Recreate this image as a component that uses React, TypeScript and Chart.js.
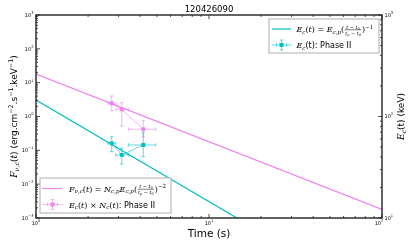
import React, { useEffect, useRef } from "react";
import { Chart, registerables } from "chart.js";

Chart.register(...registerables);

// ---------- data ----------
const chartTitle = "120426090";
const xTickValues = [1, 10, 100];
const xTickExps = ["0", "1", "2"];
const yTickValues = [1e-3, 1e-2, 1e-1, 1, 10, 100, 1000];
const yTickExps = ["−3", "−2", "−1", "0", "1", "2", "3"];
const y2TickValues = [10, 100, 1000];
const y2TickExps = ["1", "2", "3"];

// model curves (read at the ends of the visible lines)
const fluxModelT = [1, 100];
const fluxModelF = [18, 0.0018];
const ecModelT = [1, 14.5];
const ecModelE = [145, 10];

// Phase II points
const phaseT = [2.74, 3.13, 4.17];
const phaseTLo = [2.61, 2.89, 3.42];
const phaseTHi = [2.89, 3.42, 4.92];
const fluxVal = [2.45, 1.63, 0.42];
const fluxLo = [1.48, 0.52, 0.25];
const fluxHi = [4.04, 2.56, 0.75];
const ecVal = [54.4, 41.8, 52.4];
const ecLo = [45.0, 34.0, 40.2];
const ecHi = [63.2, 48.6, 69.2];

// ---------- styles ----------
const VIOLET = "rgb(238,130,238)";
const VIOLET_A = "rgba(238,130,238,0.6)";
const CYAN = "rgb(0,191,191)";
const CYAN_A = "rgba(0,191,191,0.6)";
const SANS = '"DejaVu Sans"';
const SERIF = '"DejaVu Serif"';

type Seg =
  | { k: "i" | "r" | "s" | "sub" | "sup" | "ssup"; t: string }
  | { k: "fr"; n: Seg[]; d: Seg[] };

function rich(ctx: CanvasRenderingContext2D, segs: Seg[], x: number, y: number, size: number, draw: boolean): number {
  let cx = x;
  for (const s of segs) {
    if (s.k === "fr") {
      const fs = size * 0.62;
      const wn = rich(ctx, s.n, 0, 0, fs, false);
      const wd = rich(ctx, s.d, 0, 0, fs, false);
      const w = Math.max(wn, wd) + 2;
      const axis = y - size * 0.28;
      if (draw) {
        rich(ctx, s.n, cx + (w - wn) / 2, axis - 1.2, fs, true);
        rich(ctx, s.d, cx + (w - wd) / 2, axis + 1.2 + fs * 0.72, fs, true);
        ctx.save();
        ctx.strokeStyle = ctx.fillStyle as string;
        ctx.lineWidth = 0.5;
        ctx.beginPath();
        ctx.moveTo(cx + 0.5, axis);
        ctx.lineTo(cx + w - 0.5, axis);
        ctx.stroke();
        ctx.restore();
      }
      cx += w;
      continue;
    }
    let font = "";
    let dy = 0;
    if (s.k === "i") font = `italic ${size}px ${SERIF}`;
    else if (s.k === "r") font = `${size}px ${SERIF}`;
    else if (s.k === "s") font = `${size}px ${SANS}`;
    else if (s.k === "sub") {
      font = `italic ${size * 0.7}px ${SERIF}`;
      dy = size * 0.22;
    } else if (s.k === "sup") {
      font = `${size * 0.7}px ${SERIF}`;
      dy = -size * 0.42;
    } else if (s.k === "ssup") {
      font = `${size * 0.7}px ${SANS}`;
      dy = -size * 0.42;
    }
    ctx.font = font;
    if (draw) {
      ctx.textAlign = "left";
      ctx.textBaseline = "alphabetic";
      ctx.fillText(s.t, cx, y + dy);
    }
    cx += ctx.measureText(s.t).width;
  }
  return cx - x;
}

const fracSegs: Seg = {
  k: "fr",
  n: [{ k: "i", t: "t" }, { k: "r", t: " − " }, { k: "i", t: "t" }, { k: "sub", t: "0" }],
  d: [{ k: "i", t: "t" }, { k: "sub", t: "p" }, { k: "r", t: " − " }, { k: "i", t: "t" }, { k: "sub", t: "0" }],
};

const legendFluxModel: Seg[] = [
  { k: "i", t: "F" }, { k: "sub", t: "ν,c" }, { k: "r", t: "(" }, { k: "i", t: "t" }, { k: "r", t: ") = " },
  { k: "i", t: "N" }, { k: "sub", t: "c,p" }, { k: "i", t: "E" }, { k: "sub", t: "c,p" }, { k: "r", t: "(" },
  fracSegs, { k: "r", t: ")" }, { k: "sup", t: "−2" },
];
const legendFluxData: Seg[] = [
  { k: "i", t: "E" }, { k: "sub", t: "c" }, { k: "r", t: "(" }, { k: "i", t: "t" }, { k: "r", t: ") × " },
  { k: "i", t: "N" }, { k: "sub", t: "c" }, { k: "r", t: "(" }, { k: "i", t: "t" }, { k: "r", t: ")" },
  { k: "s", t: ": Phase II" },
];
const legendEcModel: Seg[] = [
  { k: "i", t: "E" }, { k: "sub", t: "c" }, { k: "r", t: "(" }, { k: "i", t: "t" }, { k: "r", t: ") = " },
  { k: "i", t: "E" }, { k: "sub", t: "c,p" }, { k: "r", t: "(" }, fracSegs, { k: "r", t: ")" }, { k: "sup", t: "−1" },
];
const legendEcData: Seg[] = [{ k: "i", t: "E" }, { k: "sub", t: "c" }, { k: "s", t: "(t): Phase II" }];

const yTitle: Seg[] = [
  { k: "i", t: "F" }, { k: "sub", t: "ν,c" }, { k: "r", t: "(" }, { k: "i", t: "t" }, { k: "r", t: ")" },
  { k: "s", t: " (erg.cm" }, { k: "ssup", t: "−2" }, { k: "s", t: ".s" }, { k: "ssup", t: "−1" },
  { k: "s", t: ".keV" }, { k: "ssup", t: "−1" }, { k: "s", t: ")" },
];
const y2Title: Seg[] = [{ k: "i", t: "E" }, { k: "sub", t: "c" }, { k: "s", t: "(t) (keV)" }];

function drawPow(ctx: CanvasRenderingContext2D, exp: string, x: number, y: number, align: "left" | "right" | "center") {
  ctx.font = `5px ${SANS}`;
  const wb = ctx.measureText("10").width;
  ctx.font = `3.6px ${SANS}`;
  const we = ctx.measureText(exp).width;
  const w = wb + we;
  let sx = x;
  if (align === "right") sx = x - w;
  else if (align === "center") sx = x - w / 2;
  ctx.textAlign = "left";
  ctx.textBaseline = "middle";
  ctx.font = `5px ${SANS}`;
  ctx.fillText("10", sx, y + 0.5);
  ctx.font = `3.6px ${SANS}`;
  ctx.fillText(exp, sx + wb, y - 2);
}

function drawErr(ctx: CanvasRenderingContext2D, x: any, y: any, ys: number[], yl: number[], yh: number[], color: string) {
  ctx.save();
  ctx.strokeStyle = color;
  ctx.lineWidth = 1;
  for (let i = 0; i < phaseT.length; i++) {
    const px = x.getPixelForValue(phaseT[i]);
    const py = y.getPixelForValue(ys[i]);
    const x1 = x.getPixelForValue(phaseTLo[i]);
    const x2 = x.getPixelForValue(phaseTHi[i]);
    const y1 = y.getPixelForValue(yl[i]);
    const y2 = y.getPixelForValue(yh[i]);
    ctx.beginPath();
    ctx.moveTo(x1, py); ctx.lineTo(x2, py);
    ctx.moveTo(px, y1); ctx.lineTo(px, y2);
    ctx.moveTo(x1, py - 1.8); ctx.lineTo(x1, py + 1.8);
    ctx.moveTo(x2, py - 1.8); ctx.lineTo(x2, py + 1.8);
    ctx.moveTo(px - 1.8, y1); ctx.lineTo(px + 1.8, y1);
    ctx.moveTo(px - 1.8, y2); ctx.lineTo(px + 1.8, y2);
    ctx.stroke();
  }
  ctx.restore();
}

function legendErrMarker(ctx: CanvasRenderingContext2D, cx: number, cy: number, color: string, mcolor: string) {
  ctx.save();
  ctx.strokeStyle = color;
  ctx.lineWidth = 1;
  ctx.beginPath();
  ctx.moveTo(cx - 10, cy); ctx.lineTo(cx + 10, cy);
  ctx.moveTo(cx, cy - 5); ctx.lineTo(cx, cy + 5);
  ctx.moveTo(cx - 5, cy - 1.8); ctx.lineTo(cx - 5, cy + 1.8);
  ctx.moveTo(cx + 5, cy - 1.8); ctx.lineTo(cx + 5, cy + 1.8);
  ctx.moveTo(cx - 1.8, cy - 5); ctx.lineTo(cx + 1.8, cy - 5);
  ctx.moveTo(cx - 1.8, cy + 5); ctx.lineTo(cx + 1.8, cy + 5);
  ctx.stroke();
  ctx.fillStyle = mcolor;
  ctx.fillRect(cx - 2, cy - 2, 4, 4);
  ctx.restore();
}

const decorPlugin = {
  id: "decor",
  afterDatasetsDraw(chart: any) {
    const ctx: CanvasRenderingContext2D = chart.ctx;
    const { left, right, top, bottom } = chart.chartArea;
    const sx = chart.scales.x;
    const sy = chart.scales.y;
    const sy2 = chart.scales.y2;

    // error bars
    drawErr(ctx, sx, sy, fluxVal, fluxLo, fluxHi, VIOLET_A);
    drawErr(ctx, sx, sy2, ecVal, ecLo, ecHi, CYAN_A);

    ctx.save();
    // ticks
    ctx.strokeStyle = "#000";
    ctx.lineWidth = 0.7;
    const minors = [2, 3, 4, 5, 6, 7, 8, 9];
    ctx.beginPath();
    for (let i = 0; i < xTickValues.length; i++) {
      const v = xTickValues[i];
      const px = sx.getPixelForValue(v);
      ctx.moveTo(px, bottom); ctx.lineTo(px, bottom - 4);
      ctx.moveTo(px, top); ctx.lineTo(px, top + 4);
      if (i < xTickValues.length - 1) {
        for (const m of minors) {
          const mx = sx.getPixelForValue(v * m);
          ctx.moveTo(mx, bottom); ctx.lineTo(mx, bottom - 2);
          ctx.moveTo(mx, top); ctx.lineTo(mx, top + 2);
        }
      }
    }
    for (let i = 0; i < yTickValues.length; i++) {
      const v = yTickValues[i];
      const py = sy.getPixelForValue(v);
      ctx.moveTo(left, py); ctx.lineTo(left + 4, py);
      if (i < yTickValues.length - 1) {
        for (const m of minors) {
          const my = sy.getPixelForValue(v * m);
          ctx.moveTo(left, my); ctx.lineTo(left + 2, my);
        }
      }
    }
    for (let i = 0; i < y2TickValues.length; i++) {
      const v = y2TickValues[i];
      const py = sy2.getPixelForValue(v);
      ctx.moveTo(right, py); ctx.lineTo(right - 4, py);
      if (i < y2TickValues.length - 1) {
        for (const m of minors) {
          const my = sy2.getPixelForValue(v * m);
          ctx.moveTo(right, my); ctx.lineTo(right - 2, my);
        }
      }
    }
    ctx.stroke();

    // frame
    ctx.strokeStyle = "#222";
    ctx.lineWidth = 1.4;
    ctx.strokeRect(left, top, right - left, bottom - top);

    // tick labels
    ctx.fillStyle = "#000";
    for (let i = 0; i < xTickValues.length; i++) {
      const px = sx.getPixelForValue(xTickValues[i]);
      drawPow(ctx, xTickExps[i], i === xTickValues.length - 1 ? px - 3 : px, bottom + 5.5, "center");
    }
    for (let i = 0; i < yTickValues.length; i++) {
      const py = sy.getPixelForValue(yTickValues[i]);
      drawPow(ctx, yTickExps[i], left - 2.5, py, "right");
    }
    for (let i = 0; i < y2TickValues.length; i++) {
      const py = sy2.getPixelForValue(y2TickValues[i]);
      drawPow(ctx, y2TickExps[i], right + 2.5, py, "left");
    }

    // titles
    ctx.font = `8.5px ${SANS}`;
    ctx.textAlign = "center";
    ctx.textBaseline = "middle";
    ctx.fillText(chartTitle, (left + right) / 2, 9.5);
    ctx.font = `10.5px ${SANS}`;
    ctx.fillText("Time (s)", (left + right) / 2, 234);

    const cyMid = (top + bottom) / 2;
    const ytSize = 9;
    const wy = rich(ctx, yTitle, 0, 0, ytSize, false);
    ctx.save();
    ctx.translate(17, cyMid);
    ctx.rotate(-Math.PI / 2);
    rich(ctx, yTitle, -wy / 2, 0, ytSize, true);
    ctx.restore();
    const wy2 = rich(ctx, y2Title, 0, 0, ytSize, false);
    ctx.save();
    ctx.translate(404, cyMid);
    ctx.rotate(-Math.PI / 2);
    rich(ctx, y2Title, -wy2 / 2, 0, ytSize, true);
    ctx.restore();

    // legends
    const lg = 8;
    // lower-left
    ctx.fillStyle = "#fff";
    ctx.fillRect(40, 178, 131, 35);
    ctx.strokeStyle = "#bbb";
    ctx.lineWidth = 1.2;
    ctx.strokeRect(40, 178, 131, 35);
    ctx.strokeStyle = VIOLET;
    ctx.lineWidth = 1.2;
    ctx.beginPath();
    ctx.moveTo(42, 188.5); ctx.lineTo(62, 188.5);
    ctx.stroke();
    legendErrMarker(ctx, 52.5, 204.5, VIOLET_A, VIOLET);
    ctx.fillStyle = "#000";
    rich(ctx, legendFluxModel, 69, 191.5, lg, true);
    rich(ctx, legendFluxData, 69, 207.5, lg, true);

    // upper-right
    ctx.fillStyle = "#fff";
    ctx.fillRect(269, 19, 110, 34);
    ctx.strokeStyle = "#bbb";
    ctx.lineWidth = 1.2;
    ctx.strokeRect(269, 19, 110, 34);
    ctx.strokeStyle = CYAN;
    ctx.lineWidth = 1.2;
    ctx.beginPath();
    ctx.moveTo(272, 29); ctx.lineTo(291, 29);
    ctx.stroke();
    legendErrMarker(ctx, 281.5, 45, CYAN_A, CYAN);
    ctx.fillStyle = "#000";
    rich(ctx, legendEcModel, 296.5, 32, lg, true);
    rich(ctx, legendEcData, 296.5, 48, lg, true);

    ctx.restore();
  },
};

export default function App() {
  const ref = useRef<HTMLCanvasElement | null>(null);
  useEffect(() => {
    if (!ref.current) return;
    const chart = new Chart(ref.current, {
      type: "scatter",
      data: {
        datasets: [
          {
            label: "flux model",
            data: fluxModelT.map((t, i) => ({ x: t, y: fluxModelF[i] })),
            showLine: true,
            borderColor: VIOLET,
            borderWidth: 1.2,
            pointRadius: 0,
            yAxisID: "y",
          },
          {
            label: "Ec model",
            data: ecModelT.map((t, i) => ({ x: t, y: ecModelE[i] })),
            showLine: true,
            borderColor: CYAN,
            borderWidth: 1.2,
            pointRadius: 0,
            yAxisID: "y2",
          },
          {
            label: "Ec x Nc: Phase II",
            data: phaseT.map((t, i) => ({ x: t, y: fluxVal[i] })),
            showLine: true,
            borderColor: VIOLET_A,
            borderWidth: 1,
            pointStyle: "rect",
            pointRadius: 2.8,
            pointBackgroundColor: VIOLET,
            pointBorderWidth: 0,
            yAxisID: "y",
          },
          {
            label: "Ec: Phase II",
            data: phaseT.map((t, i) => ({ x: t, y: ecVal[i] })),
            showLine: true,
            borderColor: CYAN_A,
            borderWidth: 1,
            pointStyle: "rect",
            pointRadius: 2.8,
            pointBackgroundColor: CYAN,
            pointBorderWidth: 0,
            yAxisID: "y2",
          },
        ],
      },
      options: {
        animation: false,
        responsive: false,
        layout: { padding: { left: 36, right: 33, top: 15, bottom: 31 } },
        plugins: { legend: { display: false }, tooltip: { enabled: false }, title: { display: false } },
        scales: {
          x: { type: "logarithmic", min: 1, max: 100, display: false },
          y: { type: "logarithmic", min: 1e-3, max: 1e3, display: false, position: "left" },
          y2: { type: "logarithmic", min: 10, max: 1000, display: false, position: "right" },
        },
      },
      plugins: [decorPlugin],
    });
    return () => chart.destroy();
  }, []);
  return (
    <div style={{ position: "absolute", left: 0, top: 0, width: 415, height: 249, background: "#fff" }}>
      <canvas ref={ref} width={415} height={249} />
    </div>
  );
}
